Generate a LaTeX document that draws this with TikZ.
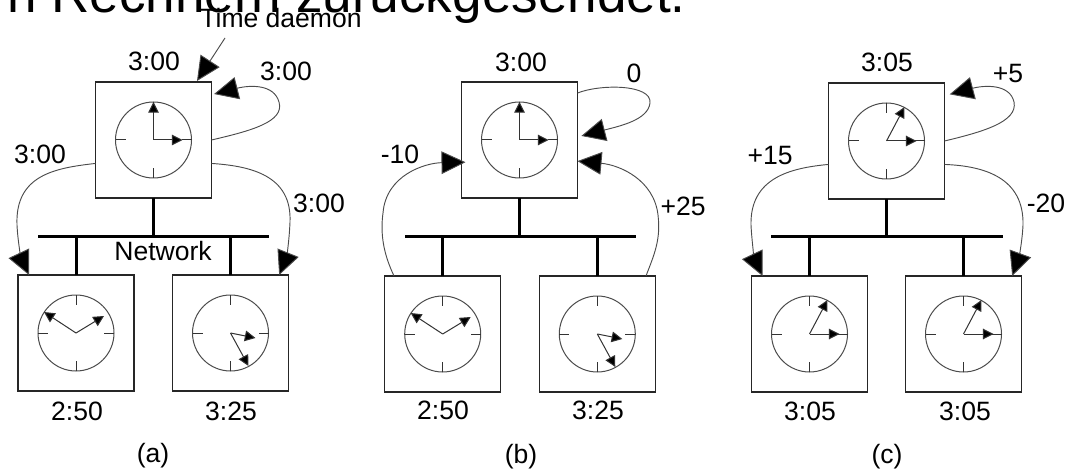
\documentclass[tikz,border=0pt]{standalone}
\usepackage{fontspec}
\setmainfont{Liberation Sans}
\usetikzlibrary{arrows.meta}
\tikzset{
  clockbox/.style={draw=black!85,line width=.8pt,minimum size=87pt,inner sep=0pt,outer sep=0pt},
  face/.style={draw=black!70,line width=.75pt},
  tick/.style={draw=black!80,line width=.75pt},
  hand/.style={draw=black!80,line width=.75pt,-{Triangle[length=8pt,width=8pt,fill=black]}},
  bus/.style={draw=black,line width=2.25pt},
  msg/.style={draw=black!70,line width=.7pt,-{Triangle[length=18pt,width=17pt,fill=black]}},
  lbl/.style={font=\fontsize{19.9pt}{22pt}\selectfont,anchor=base,inner sep=0pt,text=black},
  title/.style={font=\fontsize{39.8pt}{44pt}\selectfont,anchor=base east,inner sep=0pt,text=black}
}
\newcommand{\clockat}[7]{%
  \node[clockbox] (#1) at (#2,#3) {};
  \draw[face] (#1.center) circle[radius=28.5pt];
  \draw[tick] (#1.center) ++(38,0) -- ++(-10,0);
  \draw[tick] (#1.center) ++(-38,0) -- ++(10,0);
  \draw[tick] (#1.center) ++(0,38) -- ++(0,-10);
  \draw[tick] (#1.center) ++(0,-38) -- ++(0,10);
  \draw[hand] (#1.center) -- ++(#4,#5);
  \draw[hand] (#1.center) -- ++(#6,#7);
}
\begin{document}
\begin{tikzpicture}[x=.75pt,y=-.75pt]
\useasboundingbox (0,0) rectangle (1066,470);
\clip (0,0) rectangle (1066,470);
\node[title] (head) at (686,13) {n Rechnern zurückgesendet.};
% panel a
\clockat{A}{153.5}{140}{0}{-38}{29}{0}
\clockat{AL}{76}{333}{-32}{-21}{28}{-17}
\clockat{AR}{230.5}{333}{25}{5}{18}{33}
\coordinate (Abl) at (38,237); \coordinate (Abr) at (269,237);
\draw[bus] (Abl) -- (Abr);
\draw[bus] (A.south) -- (A.south |- Abl);
\draw[bus] (AL.north) -- (AL.north |- Abl);
\draw[bus] (AR.north) -- (AR.north |- Abl);
\node[lbl] (td) at (281,28) {Time daemon};
\coordinate (tdf) at (225,38);
\draw[msg] (tdf) -- (197,81);
\draw[msg,shorten >=2pt] (A.east) .. controls (250,131) and (285,122) .. (279,102) .. controls (274,84) and (250,85) .. (A.38);
\draw[msg] (A.202.5) .. controls (55,168) and (15,175) .. (17,225) .. controls (18,245) and (22,260) .. (AL.129);
\draw[msg] (A.-22.5) .. controls (250,166) and (292,175) .. (290,222) .. controls (289,245) and (286,258) .. (AR.50.4);
\node[lbl] (a1) at (154,71) {3:00};
\node[lbl] (a2) at (286,81) {3:00};
\node[lbl] (a3) at (40,164) {3:00};
\node[lbl] (a4) at (319,213) {3:00};
\node[lbl] (net) at (163,260) {Network};
\node[lbl] (a5) at (77,420) {2:50};
\node[lbl] (a6) at (231,420) {3:25};
\node[lbl] (a7) at (153,462) {(a)};
% panel b
\clockat{B}{519.5}{140}{0}{-38}{29}{0}
\clockat{BL}{442.7}{334}{-32}{-21}{28}{-17}
\clockat{BR}{597.3}{334}{25}{5}{18}{33}
\coordinate (Bbl) at (405,237); \coordinate (Bbr) at (636,237);
\draw[bus] (Bbl) -- (Bbr);
\draw[bus] (B.south) -- (B.south |- Bbl);
\draw[bus] (BL.north) -- (BL.north |- Bbl);
\draw[bus] (BR.north) -- (BR.north |- Bbl);
\draw[msg,shorten >=3pt] (B.39.6) .. controls (600,84) and (652,84) .. (650,103) .. controls (648,120) and (620,126) .. (B.3);
\draw[msg,shorten >=-3pt] (BL.130) .. controls (384,255) and (380,235) .. (383,213) .. controls (386,175) and (425,163) .. (B.201.6);
\draw[msg] (BR.50) .. controls (654,255) and (661,240) .. (658,215) .. controls (654,180) and (620,165) .. (B.-20.8);
\node[lbl] (b1) at (521,72) {3:00};
\node[lbl] (b2) at (634,83) {0};
\node[lbl] (b3) at (400,164) {-10};
\node[lbl] (b4) at (683,215) {+25};
\node[lbl] (b5) at (443,419) {2:50};
\node[lbl] (b6) at (598,419) {3:25};
\node[lbl] (b7) at (521,463) {(b)};
% panel c
\clockat{C}{886.5}{141}{18}{-34}{30}{0}
\clockat{CL}{809.5}{334}{18}{-34}{30}{0}
\clockat{CR}{963.5}{334}{18}{-34}{30}{0}
\coordinate (Cbl) at (771,237); \coordinate (Cbr) at (1003,237);
\draw[bus] (Cbl) -- (Cbr);
\draw[bus] (C.south) -- (C.south |- Cbl);
\draw[bus] (CL.north) -- (CL.north |- Cbl);
\draw[bus] (CR.north) -- (CR.north |- Cbl);
\draw[msg,shorten >=4pt] (C.east) .. controls (982,132) and (1018,122) .. (1014,102) .. controls (1010,84) and (985,85) .. (C.38);
\draw[msg] (C.202.5) .. controls (790,168) and (750,178) .. (751,225) .. controls (752,245) and (755,260) .. (CL.129);
\draw[msg] (C.-22.5) .. controls (985,166) and (1024,178) .. (1023,225) .. controls (1022,245) and (1018,260) .. (CR.50.4);
\node[lbl] (c1) at (887,72) {3:05};
\node[lbl] (c2) at (1008,83) {+5};
\node[lbl] (c3) at (770,165) {+15};
\node[lbl] (c4) at (1046,213) {-20};
\node[lbl] (c5) at (810,420) {3:05};
\node[lbl] (c6) at (965,420) {3:05};
\node[lbl] (c7) at (887,463) {(c)};
\end{tikzpicture}
\end{document}
